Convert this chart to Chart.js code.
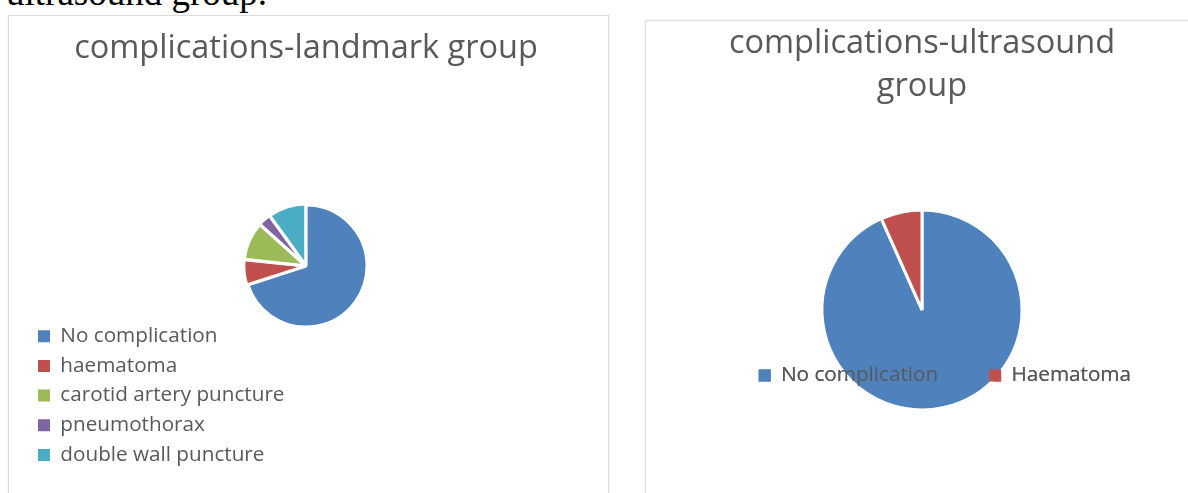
<!DOCTYPE html>
<html>
<head>
<meta charset="utf-8">
<script src="https://cdn.jsdelivr.net/npm/chart.js@4.4.1/dist/chart.umd.min.js"></script>
<style>
  html, body { margin: 0; padding: 0; background: #fff; }
  body { width: 1188px; height: 493px; overflow: hidden; position: relative; }
  .caption { position: absolute; left: 6px; top: -26px; font: 37px/37px "Liberation Serif", "Times New Roman", serif; color: #000; white-space: nowrap; }
  .panel { position: absolute; border: 1px solid #dcdcdc; box-shadow: 0 0 2px #ececec; background: #fff; }
  #left { left: 8px; top: 15px; width: 599px; height: 490px; }
  #right { left: 645px; top: 20px; width: 600px; height: 490px; }
  .panel canvas { position: absolute; left: 0; top: 0; }
</style>
</head>
<body>
<div class="caption">ultrasound group.</div>
<div class="panel" id="left"><canvas id="landmark" width="599" height="477"></canvas></div>
<div class="panel" id="right"><canvas id="ultrasound" width="552" height="472"></canvas></div>
<script>
const landmarkLabels = ['No complication', 'haematoma', 'carotid artery puncture', 'pneumothorax', 'double wall puncture'];
const landmarkCounts = [21, 2, 3, 1, 3];
const ultrasoundLabels = ['No complication', 'Haematoma'];
const ultrasoundCounts = [28, 2];
const sliceColors = ['#4F81BD', '#C0504D', '#9BBB59', '#8064A2', '#4BACC6'];

Chart.defaults.font.family = "'Open Sans', sans-serif";

// legend squares without the white slice border
function noBorderLabels(chart) {
  const base = Chart.overrides.pie.plugins.legend.labels.generateLabels;
  return base(chart).map(item => Object.assign(item, { lineWidth: 0 }));
}

// legend sits at the left but the pie stays centred under the title (like excel)
const centreUnderTitle = {
  id: 'centreUnderTitle',
  afterLayout(chart) {
    const area = chart.chartArea;
    const title = chart.titleBlock;
    area.left = title.left;
    area.right = title.right;
    area.width = area.right - area.left;
  }
};

// excel draws the legend over the pie
const legendOnTop = {
  id: 'legendOnTop',
  afterDatasetsDraw(chart) {
    chart.legend.draw();
  }
};

new Chart(document.getElementById('landmark'), {
  type: 'pie',
  data: {
    labels: landmarkLabels,
    datasets: [{
      data: landmarkCounts,
      backgroundColor: sliceColors,
      borderColor: '#fff',
      borderWidth: 3,
      offset: [0, 3, 3, 3, 3],
      radius: 61
    }]
  },
  options: {
    responsive: false,
    animation: false,
    layout: { padding: { left: 20, right: 25, top: 0, bottom: 18.65 } },
    plugins: {
      title: {
        display: true,
        text: 'complications-landmark group',
        color: '#595959',
        font: { size: 32.5, weight: 'normal', lineHeight: 1.2 },
        padding: { top: 12.8, bottom: -10.15 }
      },
      legend: {
        position: 'left',
        align: 'end',
        labels: { boxWidth: 12, boxHeight: 12, padding: 9, color: '#595959', font: { size: 20.7 }, generateLabels: noBorderLabels }
      },
      tooltip: { enabled: false }
    }
  },
  plugins: [centreUnderTitle]
});

new Chart(document.getElementById('ultrasound'), {
  type: 'pie',
  data: {
    labels: ultrasoundLabels,
    datasets: [{
      data: ultrasoundCounts,
      backgroundColor: sliceColors.slice(0, 2),
      borderColor: '#fff',
      borderWidth: 3,
      radius: 100
    }]
  },
  options: {
    responsive: false,
    animation: false,
    layout: { padding: { left: 16, right: 16, top: 0, bottom: 97.15 } },
    plugins: {
      title: {
        display: true,
        text: ['complications-ultrasound', 'group'],
        color: '#595959',
        font: { size: 32.5, weight: 'normal', lineHeight: 1.344 },
        padding: { top: 0.5, bottom: 196.95 }
      },
      legend: {
        position: 'bottom',
        align: 'end',
        labels: { boxWidth: 12, boxHeight: 12, padding: 51, color: '#595959', font: { size: 20.7 }, generateLabels: noBorderLabels }
      },
      tooltip: { enabled: false }
    }
  },
  plugins: [legendOnTop]
});
</script>
</body>
</html>
